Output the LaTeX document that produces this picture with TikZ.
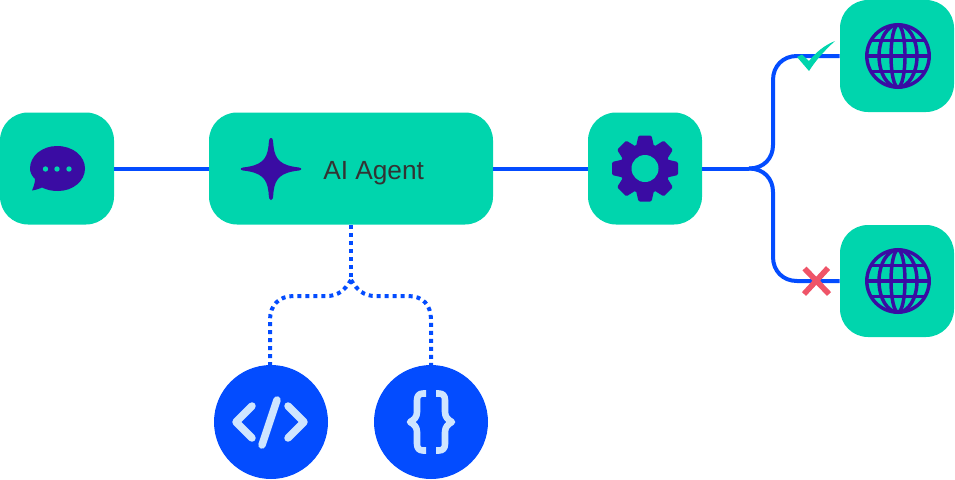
\documentclass[tikz,border=0pt]{standalone}
\usepackage{fontspec}
\setmainfont{Liberation Sans}
\definecolor{teal}{HTML}{00D5AD}
\definecolor{linkblue}{HTML}{034CFF}
\definecolor{iconpurple}{HTML}{3A0CA3}
\definecolor{paleblue}{HTML}{CFE5FF}
\definecolor{crossred}{HTML}{EF5468}
\tikzset{
  tile/.style={fill=teal,draw=none,rounded corners=21pt,inner sep=0pt,minimum height=84pt},
  smalltile/.style={tile,minimum width=85.5pt},
  disc/.style={circle,fill=linkblue,draw=none,inner sep=0pt,minimum size=85.5pt},
  link/.style={draw=linkblue,line width=3pt},
  dotlink/.style={link,dash pattern=on 3pt off 3pt},
  iconfill/.style={fill=iconpurple,draw=none},
  globeline/.style={draw=iconpurple,line width=2.6pt},
  paleline/.style={draw=paleblue,line width=5.6pt,line cap=round,line join=round},
  paleline2/.style={draw=paleblue,line width=4.9pt,line join=round},
}
\newcommand{\globeicon}[1]{%
  \begin{scope}[shift={(#1)}]
    \draw[globeline] (0,0) circle (31.2);
    \draw[globeline] (0,0) ellipse (7 and 31.2);
    \draw[globeline] (0,0) ellipse (19 and 31.2);
    \draw[globeline] (-31,0) -- (31,0);
    \draw[globeline] (-26.5,-15.5) -- (26.5,-15.5);
    \draw[globeline] (-26.5,15.5) -- (26.5,15.5);
  \end{scope}}
\begin{document}
\begin{tikzpicture}[x=0.75pt,y=-0.75pt]
\useasboundingbox (0,0) rectangle (955,479);
\node[smalltile] (chat) at (57,168.5) {};
\node[tile,minimum width=213pt] (agent) at (351,168.5) {};
\node[smalltile] (gear) at (645,168.5) {};
\node[smalltile] (webok) at (897,56) {};
\node[smalltile] (webno) at (897,281) {};
\node[disc] (code) at (271,422) {};
\node[disc] (json) at (431,422) {};
\coordinate (dotfork) at (351,280);
\coordinate (fork) at (749,168.5);
\draw[link] (chat.east) -- (agent.west);
\draw[link] (agent.east) -- (gear.west);
\draw[link] (gear.east) -- (fork);
\draw[link] (fork) .. controls (764,168.5) and (773,158) .. (773,145)
   -- (773,80) .. controls (773,66) and (783,56) .. (797,56) -- (webok.west);
\draw[link] (fork) .. controls (764,168.5) and (773,179) .. (773,192)
   -- (773,257) .. controls (773,271) and (783,281) .. (797,281) -- (webno.west);
\draw[dotlink] (agent.south) -- (dotfork);
\draw[dotlink] (dotfork) .. controls (345,290) and (338,296) .. (327,296) -- (294,296)
   .. controls (279,296) and (270,305) .. (270,320) -- (270,366);
\draw[dotlink] (dotfork) .. controls (357,290) and (364,296) .. (375,296) -- (408,296)
   .. controls (423,296) and (431,305) .. (431,320) -- (431,366);
% chat icon
\fill[iconfill] (57,146) .. controls (73,146) and (85,156) .. (85,168.5)
   .. controls (85,181) and (73,191) .. (58,191) .. controls (52,191) and (47,190) .. (42,187.5)
   .. controls (39,189) and (35,190) .. (32,190.5) .. controls (33.5,187) and (35,183) .. (35,179)
   .. controls (32,176) and (30,172.5) .. (30,168.5) .. controls (30,156) and (42,146) .. (57,146) -- cycle;
\foreach \dx in {45.5,57,69}{\fill[teal] (\dx,169) circle (2.7);}
% star icon
\fill[iconfill] (271,138) .. controls (273,138) and (273,141) .. (273.5,146)
   .. controls (275,160) and (281,165.5) .. (299,167.5) .. controls (302,168) and (302,170) .. (299,170.5)
   .. controls (281,172.5) and (275,178) .. (273.5,192) .. controls (273,198) and (273,200) .. (271,200)
   .. controls (269,200) and (269,198) .. (268.5,192) .. controls (267,178) and (261,172.5) .. (243,170.5)
   .. controls (240,170) and (240,168) .. (243,167.5) .. controls (261,165.5) and (267,160) .. (268.5,146)
   .. controls (269,141) and (269,138) .. (271,138) -- cycle;
\node[text=black!80,font=\fontsize{19.7pt}{22pt}\selectfont,anchor=base west,inner sep=0pt] (agentlabel) at (323,179) {AI Agent};
% gear icon
\begin{scope}[shift={(645,168.5)}]
  \fill[iconfill] (0,0) circle (25);
  \foreach \a in {0,45,...,315}{
    \fill[iconfill,rotate=\a,rounded corners=1pt] (-9,-22) -- (-6.5,-33) -- (6.5,-33) -- (9,-22) -- cycle;
  }
  \fill[teal] (0,0) circle (13.5);
\end{scope}
\globeicon{898,56}
\globeicon{898,281}
% check mark
\fill[teal] (797,57) -- (802,54.5) -- (809,61) .. controls (816,52) and (825,45) .. (835,41)
   .. controls (825,50) and (816,60) .. (809,71) -- cycle;
% cross mark
\draw[draw=crossred,line width=4.2pt] (804.5,268.5) -- (829,294);
\draw[draw=crossred,line width=4.2pt] (828,268) -- (804,294);
% code icon
\draw[paleline] (252,406) -- (236,422) -- (252,438);
\draw[paleline] (288,406) -- (304,422) -- (288,438);
\draw[paleline] (277,400) -- (262,445);
% braces icon
\draw[paleline2] (426,393.5) -- (423,393.5) .. controls (419,393.5) and (417,396) .. (417,400) -- (417,412)
  .. controls (417,417) and (414,420) .. (410,422) .. controls (414,424) and (417,427) .. (417,432)
  -- (417,444) .. controls (417,448) and (419,450.5) .. (423,450.5) -- (426,450.5);
\draw[paleline2] (436,393.5) -- (439,393.5) .. controls (443,393.5) and (445,396) .. (445,400) -- (445,412)
  .. controls (445,417) and (448,420) .. (452,422) .. controls (448,424) and (445,427) .. (445,432)
  -- (445,444) .. controls (445,448) and (443,450.5) .. (439,450.5) -- (436,450.5);
\end{tikzpicture}
\end{document}
